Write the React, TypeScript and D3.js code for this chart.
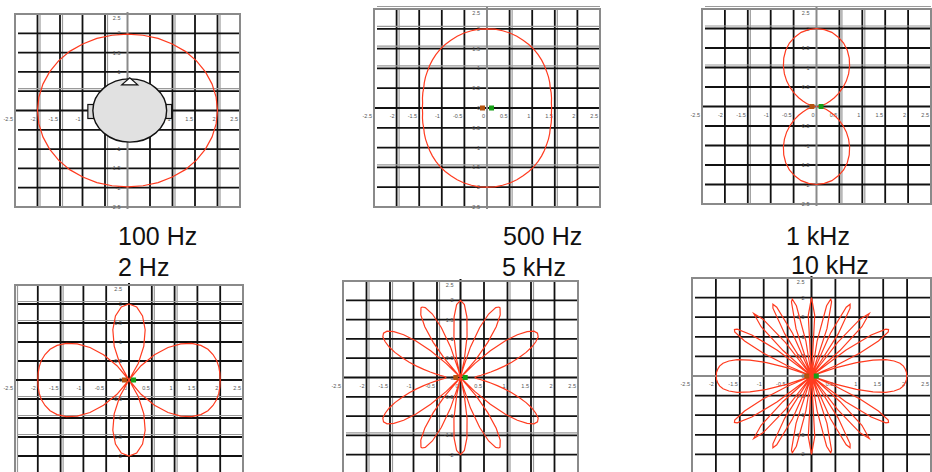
import { useEffect, useRef } from 'react';
import * as d3 from 'd3';

const panelLabels = ['100 Hz', '500 Hz', '1 kHz', '2 Hz', '5 kHz', '10 kHz'];
const tickValues = [-2.5, -2, -1.5, -1, -0.5, 0, 0.5, 1, 1.5, 2, 2.5];

// one quadrant of each pattern: [degrees from the front axis, radius]
const pattern100Hz = [
  [0, 1.98], [10, 1.98], [20, 1.99], [30, 1.99], [40, 2.0],
  [50, 2.0], [60, 2.0], [70, 2.0], [80, 2.0], [90, 2.0],
];
const pattern500Hz = [
  [0, 2.0], [5, 2.0], [10, 1.98], [15, 1.96], [20, 1.93], [25, 1.89], [30, 1.85],
  [35, 1.81], [40, 1.76], [45, 1.71], [50, 1.66], [55, 1.61], [60, 1.57], [65, 1.53],
  [70, 1.49], [75, 1.47], [80, 1.45], [85, 1.43], [90, 1.43],
];
const pattern1kHz = [
  [0, 2.0], [5, 1.98], [10, 1.93], [15, 1.84], [20, 1.73], [25, 1.59], [30, 1.43],
  [35, 1.26], [40, 1.09], [45, 0.92], [50, 0.75], [55, 0.59], [60, 0.45], [65, 0.33],
  [70, 0.23], [75, 0.15], [80, 0.09], [85, 0.05], [90, 0.04],
];
const pattern2kHz = [
  [0, 2.0], [5, 1.93], [10, 1.71], [15, 1.37], [20, 0.95], [25, 0.48], [30, 0],
  [35, 0.46], [40, 0.87], [45, 1.21], [50, 1.48], [55, 1.68], [60, 1.82], [65, 1.91],
  [70, 1.96], [75, 1.99], [80, 2.0], [85, 2.0], [90, 2.0],
];
const pattern5kHz = [
  [0, 2.0], [2.5, 1.89], [5, 1.57], [7.5, 1.07], [10, 0.46], [11.8, 0], [12.5, 0.19],
  [15, 0.82], [17.5, 1.36], [20, 1.75], [22.5, 1.96], [24.1, 2.0], [25, 1.99],
  [27.5, 1.83], [30, 1.52], [32.5, 1.08], [35, 0.58], [37.7, 0], [40, 0.47],
  [42.5, 0.94], [45, 1.34], [47.5, 1.64], [50, 1.85], [52.5, 1.97], [55, 2.0],
  [57.5, 1.96], [60, 1.85], [62.5, 1.71], [65, 1.54], [67.5, 1.35], [70, 1.16],
  [72.5, 0.98], [75, 0.81], [77.5, 0.66], [80, 0.54], [82.5, 0.44], [85, 0.36],
  [87.5, 0.32], [90, 0.31],
];
const pattern10kHz = [
  [0, 2.0], [2.5, 1.55], [5.8, 0], [7.5, 0.9], [10, 1.82], [11.6, 2.0], [12.5, 1.94],
  [15, 1.25], [17.6, 0], [20, 1.16], [22.5, 1.9], [23.8, 2.0], [25, 1.91], [27.5, 1.21],
  [30.2, 0], [32.5, 1.01], [35, 1.77], [37.2, 2.0], [40, 1.64], [42.5, 0.88], [44.8, 0],
  [47.5, 0.97], [50, 1.63], [52.5, 1.96], [53.7, 2.0], [55, 1.96], [57.5, 1.66],
  [60, 1.17], [62.5, 0.59], [65, 0], [67.5, 0.54], [70, 1.0], [72.5, 1.35], [75, 1.61],
  [77.5, 1.77], [80, 1.88], [82.5, 1.94], [85, 1.97], [87.5, 1.99], [90, 1.99],
];
const patterns = [pattern100Hz, pattern500Hz, pattern1kHz, pattern2kHz, pattern5kHz, pattern10kHz];

// head drawing in the first panel
const headRadius = 0.82;
const headOffset = 0.05;
const sourceOffsets = [-0.1, 0.1];

const W = 932;
const H = 472;
const GRAY = '#8a8a8a';
const INK = '#111';
const RED = '#ff3b1f';

const layout = [
  { x0: 15, x1: 240, y0: 14, y1: 207, lx: 118, ly: 245, dblX: [1, 2, 4, 7, 9], dblY: [4], vAxis: GRAY, hAxis: INK, head: true },
  { x0: 374, x1: 600, y0: 9, y1: 207, lx: 503, ly: 245, dblX: [1, 6, 8], dblY: [0, 1, 2, 3, 8], vAxis: GRAY, hAxis: INK, head: false },
  { x0: 702, x1: 931, y0: 9, y1: 204, lx: 786, ly: 245, dblX: [2, 6, 7], dblY: [0, 1, 3], vAxis: GRAY, hAxis: INK, head: false },
  { x0: 15, x1: 243, y0: 285, y1: 475, lx: 118, ly: 276, dblX: [0, 2, 6, 7], dblY: [1, 2, 6, 7, 8], vAxis: INK, hAxis: INK, head: false },
  { x0: 343, x1: 578, y0: 281, y1: 474, lx: 502, ly: 276, dblX: [1, 2, 4, 7, 8], dblY: [8], vAxis: INK, hAxis: INK, head: false },
  { x0: 692, x1: 931, y0: 278, y1: 474, lx: 791, ly: 274, dblX: [], dblY: [], vAxis: INK, hAxis: GRAY, head: false },
];

function fullPattern(q: number[][]): [number, number][] {
  const pts: [number, number][] = [];
  q.forEach(([a, r]) => pts.push([a, r]));
  q.slice().reverse().forEach(([a, r]) => pts.push([180 - a, r]));
  q.forEach(([a, r]) => pts.push([180 + a, r]));
  q.slice().reverse().forEach(([a, r]) => pts.push([360 - a, r]));
  return pts;
}

export default function App() {
  const svgRef = useRef<SVGSVGElement | null>(null);

  useEffect(() => {
    if (!svgRef.current) return;
    const svg = d3.select(svgRef.current);
    svg.selectAll('*').remove();

    svg.append('rect').attr('width', W).attr('height', H).attr('fill', '#fff');

    layout.forEach((p, i) => {
      const g = svg.append('g');
      const x = d3.scaleLinear().domain([-2.5, 2.5]).range([p.x0, p.x1]);
      const y = d3.scaleLinear().domain([-2.5, 2.5]).range([p.y1, p.y0]);
      const cx = x(0);
      const cy = y(0);

      // grid
      tickValues.forEach((v, k) => {
        if (k > 0 && k < 10 && k !== 5) {
          g.append('line')
            .attr('x1', x(v)).attr('x2', x(v))
            .attr('y1', p.y0).attr('y2', p.y1)
            .attr('stroke', INK).attr('stroke-width', 1.8);
        }
        if (p.dblX.includes(k)) {
          g.append('line')
            .attr('x1', x(v) + 2.5).attr('x2', x(v) + 2.5)
            .attr('y1', p.y0).attr('y2', p.y1)
            .attr('stroke', '#9a9a9a').attr('stroke-width', 1.2);
        }
      });
      tickValues.slice().reverse().forEach((v, k) => {
        if (k > 0 && k < 10 && k !== 5) {
          g.append('line')
            .attr('x1', p.x0 + 3).attr('x2', p.x1)
            .attr('y1', y(v)).attr('y2', y(v))
            .attr('stroke', INK).attr('stroke-width', 1.8);
        }
        if (p.dblY.includes(k)) {
          g.append('line')
            .attr('x1', p.x0 + 3).attr('x2', p.x1)
            .attr('y1', y(v) - 2.5).attr('y2', y(v) - 2.5)
            .attr('stroke', '#9a9a9a').attr('stroke-width', 1.2);
        }
      });

      // center axes
      g.append('line')
        .attr('x1', p.x0).attr('x2', p.x1)
        .attr('y1', cy).attr('y2', cy)
        .attr('stroke', p.hAxis).attr('stroke-width', 1.8);
      g.append('line')
        .attr('x1', cx).attr('x2', cx)
        .attr('y1', p.y0 - 2).attr('y2', p.y1 + 2)
        .attr('stroke', p.vAxis).attr('stroke-width', 2);

      // border
      g.append('rect')
        .attr('x', p.x0).attr('y', p.y0)
        .attr('width', p.x1 - p.x0).attr('height', p.y1 - p.y0)
        .attr('fill', 'none').attr('stroke', GRAY).attr('stroke-width', 2);

      // tiny tick labels
      const tickFont = '"Liberation Sans", Arial, sans-serif';
      tickValues.forEach((v) => {
        const ty = y(v) + (v === 2.5 ? 5.5 : 2);
        if (ty < H - 2) {
          g.append('text')
            .attr('x', cx - 7).attr('y', ty)
            .attr('text-anchor', 'end')
            .attr('font-family', tickFont).attr('font-size', 5.5)
            .attr('fill', '#555')
            .text(String(v));
        }
        g.append('text')
          .attr('x', x(v) - 2).attr('y', cy + 10)
          .attr('text-anchor', 'end')
          .attr('font-family', tickFont).attr('font-size', 5.5)
          .attr('fill', '#555')
          .text(String(v));
      });

      // pattern curve
      const pts = fullPattern(patterns[i]);
      const line = d3.line<[number, number]>()
        .x(d => x(d[1] * Math.sin((d[0] * Math.PI) / 180)))
        .y(d => y(d[1] * Math.cos((d[0] * Math.PI) / 180)))
        .curve(d3.curveLinearClosed);
      g.append('path')
        .attr('d', line(pts))
        .attr('fill', 'none')
        .attr('stroke', RED)
        .attr('stroke-width', 1.2);

      if (p.head) {
        const hx = x(headOffset);
        const rx = x(headRadius) - x(0);
        const ry = y(0) - y(headRadius);
        // ears
        [-1, 1].forEach(s => {
          const ex = s < 0 ? hx - rx - 5 : hx + rx - 1;
          g.append('rect')
            .attr('x', ex).attr('y', cy - 6)
            .attr('width', 6).attr('height', 14)
            .attr('fill', '#d9d9d9').attr('stroke', INK).attr('stroke-width', 1.2);
        });
        g.append('ellipse')
          .attr('cx', hx).attr('cy', cy)
          .attr('rx', rx).attr('ry', ry)
          .attr('fill', '#e1e1e1').attr('stroke', INK).attr('stroke-width', 1.4);
        // nose
        const top = cy - ry;
        g.append('path')
          .attr('d', `M${hx - 8},${top + 6}L${hx + 8},${top + 6}L${hx},${top - 1}Z`)
          .attr('fill', '#fff').attr('stroke', INK).attr('stroke-width', 1.2);
      } else {
        sourceOffsets.forEach((o, k) => {
          g.append('rect')
            .attr('x', x(o) - 2.5).attr('y', cy - 2.5)
            .attr('width', 5).attr('height', 5)
            .attr('fill', k === 0 ? '#b4530f' : '#16a016');
        });
      }

      svg.append('text')
        .attr('x', p.lx).attr('y', p.ly)
        .attr('font-family', '"Liberation Sans", Arial, sans-serif')
        .attr('font-size', 25)
        .attr('fill', INK)
        .text(panelLabels[i]);
    });
  }, []);

  return (
    <svg
      ref={svgRef}
      width={W}
      height={H}
      style={{ position: 'absolute', left: 0, top: 0 }}
    />
  );
}
